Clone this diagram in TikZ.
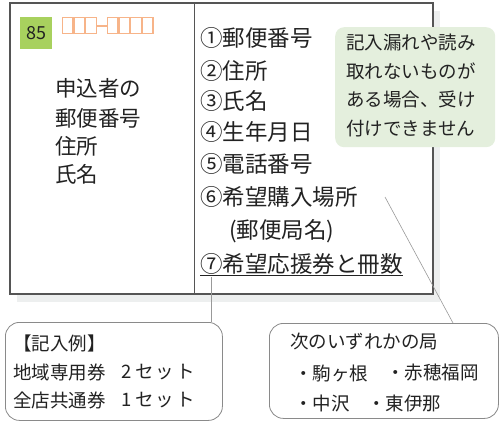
\documentclass[tikz,border=0pt]{standalone}
\usepackage{fontspec}
\setmainfont{Noto Sans CJK JP}
\definecolor{txt}{HTML}{222222}
\definecolor{cardline}{HTML}{555555}
\definecolor{shadowc}{HTML}{EDEFEF}
\definecolor{greenbox}{HTML}{A8D15E}
\definecolor{orangec}{HTML}{F5A26C}
\definecolor{calloutc}{HTML}{E4EFDD}
\definecolor{boxline}{HTML}{8A8A8A}
\begin{document}
\begin{tikzpicture}[x=1pt,y=-1pt,
  every node/.style={text=txt, inner sep=0pt, anchor=west},
  bigtext/.style={font=\fontsize{21.5}{20}\selectfont},
  listtext/.style={font=\fontsize{22.5}{20}\selectfont},
  smalltext/.style={font=\fontsize{18.5}{18}\selectfont, align=left},
  tofu/.style={draw=orangec, line width=1.2pt, opacity=0.8},
  roundbox/.style={draw=boxline, line width=0.8pt, rounded corners=14pt, fill=white},
  leader/.style={draw=gray!80, line width=0.6pt}]
\useasboundingbox (0,0) rectangle (500,426);
% shadow
\fill[shadowc] (17,11) rectangle (440,302);
% card
\draw[cardline, line width=1.3pt, fill=white] (10,3) rectangle (433,294);
\draw[cardline, line width=1.3pt] (194.5,3) -- (194.5,294);
% 85 box
\node[fill=greenbox, minimum width=32pt, minimum height=32pt, anchor=center, font=\fontsize{18}{18}\selectfont] (n85) at (36,33) {85};
% tofu boxes
\foreach \xx in {62.3,74.0,85.7,107.3,119.0,130.7,142.4}{
  \draw[tofu] (\xx,17.8) rectangle ++(10.5,16);
}
\draw[tofu] (96.8,26) -- (107.3,26);
% left text
\node[bigtext] (l1) at (55,88) {申込者の};
\node[bigtext] (l2) at (55,118) {郵便番号};
\node[bigtext] (l3) at (55,146) {住所};
\node[bigtext] (l4) at (55,174) {氏名};
% right list
\node[listtext] (r1) at (200,38) {①郵便番号};
\node[listtext] (r2) at (200,71) {②住所};
\node[listtext] (r3) at (200,101) {③氏名};
\node[listtext] (r4) at (200,132) {④生年月日};
\node[listtext] (r5) at (200,164) {⑤電話番号};
\node[listtext] (r6) at (200,197) {⑥希望購入場所};
\node[listtext] (r6b) at (229,231) {(郵便局名)};
\node[listtext] (r7) at (200,264) {⑦希望応援券と冊数};
\draw[txt, line width=1pt] (r7.south west) ++(0,0.5) coordinate (u1) -- (r7.south east |- u1);
% callout
\node[fill=calloutc, rounded corners=9pt, minimum width=160pt, minimum height=120pt, anchor=north west] (call) at (335,27) {};
\node[smalltext, anchor=north west, font=\fontsize{18.5}{28.5}\selectfont] (calltext) at (346,34) {記入漏れや読み\\取れないものが\\ある場合、受け\\付けできません};
% leaders
\coordinate (c7) at (211,277);
\coordinate (c6) at (385,197);
\node[roundbox, minimum width=217pt, minimum height=98pt, anchor=north west] (bl) at (5,322) {};
\node[roundbox, minimum width=229pt, minimum height=95pt, anchor=north west] (br) at (269,323) {};
\draw[leader] (c7) -- (c7 |- bl.north);
\draw[leader] (c6) -- (453,323);
% bottom-left text
\node[smalltext] (b1) at (13,343) {【記入例】};
\node[smalltext] (b2) at (13,372) {地域専用券};
\node[smalltext] (b2n) at (121,372) {2\hspace{4pt}セ\hspace{2pt}ッ\hspace{2pt}ト};
\node[smalltext] (b3) at (13,400) {全店共通券};
\node[smalltext] (b3n) at (121,400) {1\hspace{4pt}セ\hspace{2pt}ッ\hspace{2pt}ト};
% bottom-right text
\node[smalltext] (c1) at (290,341) {次のいずれかの局};
\node[smalltext] (c2) at (294,373) {・駒ヶ根};
\node[smalltext] (c2b) at (386,373) {・赤穂福岡};
\node[smalltext] (c3) at (294,403) {・中沢};
\node[smalltext] (c3b) at (367,403) {・東伊那};
\end{tikzpicture}
\end{document}
